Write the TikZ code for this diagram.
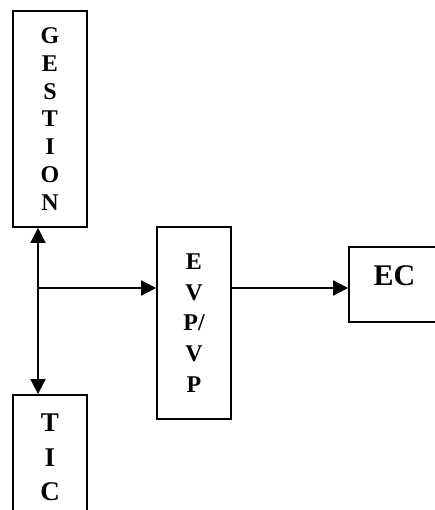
\documentclass[tikz,border=0pt]{standalone}
\usepackage{fontspec}
\setmainfont{Liberation Serif}
\usetikzlibrary{arrows.meta}
\begin{document}
\begin{tikzpicture}[x=1pt,y=-1pt,line width=1.8pt,
  box/.style={draw,inner sep=0pt,align=center},
  >={Triangle[length=15pt,width=15pt]}]
\pgfmathsetmacro{\xj}{38}
\pgfmathsetmacro{\yj}{288}
\useasboundingbox(0,0)rectangle(435,510);
\clip(0,0)rectangle(435,510);
\node[box,minimum width=74pt,minimum height=216pt,font=\fontsize{24}{27.7}\selectfont\bfseries](gest)at(50,119){G\\E\\S\\T\\I\\O\\N};
\node[box,minimum width=74pt,minimum height=192pt,font=\fontsize{24}{30.8}\selectfont\bfseries](evp)at(194,323){E\\V\\P/\\V\\P};
\node[box,minimum width=91pt,minimum height=75pt,text depth=17pt,font=\fontsize{30}{34}\selectfont\bfseries](ec)at(394.5,284.5){EC};
\node[box,minimum width=74pt,minimum height=125pt,font=\fontsize{27}{34.5}\selectfont\bfseries](tic)at(50,457.5){T\\I\\C};
\coordinate(j)at(\xj,\yj);
\draw[<->](j|-gest.south)--(j|-tic.north);
\draw[->](j)--(evp.west|-j);
\draw[->](evp.east|-j)--(ec.west|-j);
\end{tikzpicture}
\end{document}
